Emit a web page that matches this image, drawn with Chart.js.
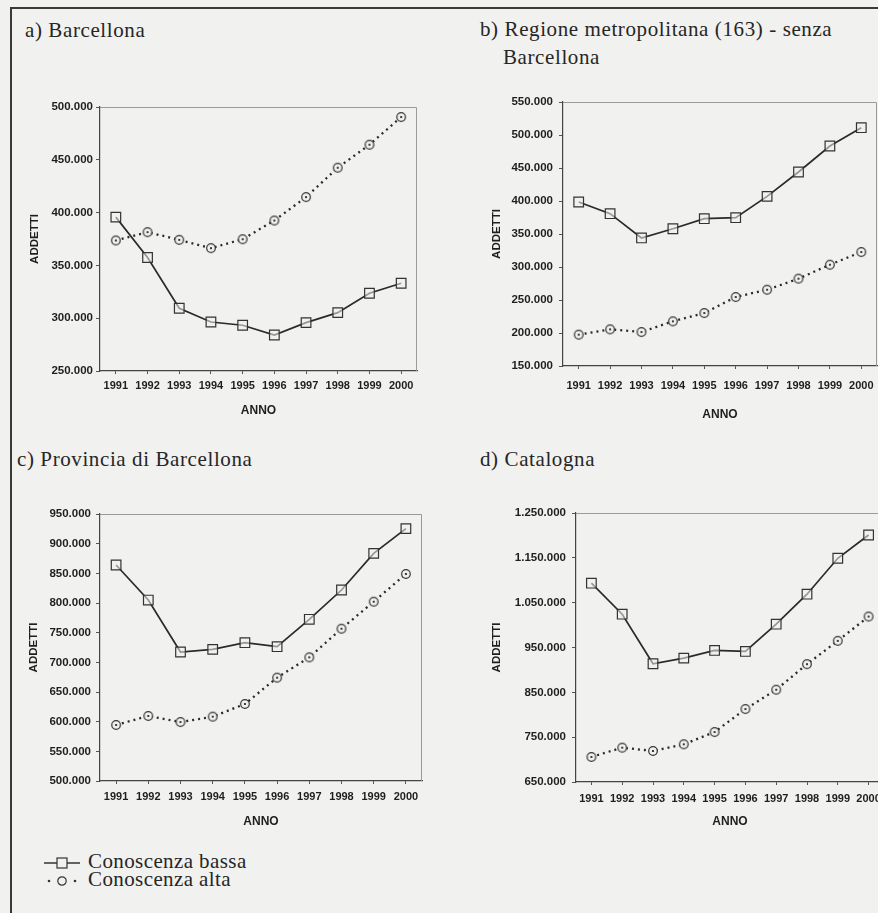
<!DOCTYPE html>
<html>
<head>
<meta charset="utf-8">
<script src="https://cdn.jsdelivr.net/npm/chart.js@4.4.0/dist/chart.umd.min.js"></script>
<style>
  html { margin: 0; padding: 0; overflow: hidden; background: #f1f1ef; }
  body { margin: 0; padding: 0; width: 960px; height: 913px; overflow: hidden; position: relative; background: #f1f1ef; }
  .box { position: absolute; }
  .box canvas { display: block; }
  .ttl { position: absolute; font-family: "Liberation Serif", serif; font-size: 21px; letter-spacing: 0.6px; color: #262626; line-height: 22px; white-space: nowrap; }
  .frame-top { position: absolute; left: 11px; top: 7px; width: 900px; height: 2px; background: #3a3a3a; }
  .frame-left { position: absolute; left: 10px; top: 7px; width: 2px; height: 906px; background: #3a3a3a; }
  .leg { position: absolute; left: 44px; font-family: "Liberation Serif", serif; font-size: 21px; letter-spacing: 0.4px; color: #262626; line-height: 18px; white-space: nowrap; }
  .leg svg { vertical-align: -2px; margin-right: 8px; }
</style>
</head>
<body>
<div class="frame-top"></div>
<div class="frame-left"></div>

<div class="ttl" style="left:25px; top:19px;">a) Barcellona</div>
<div class="ttl" style="left:480px; top:15px; line-height:28px;">b) Regione metropolitana (163) - senza<br><span style="padding-left:23px">Barcellona</span></div>
<div class="ttl" style="left:17px; top:448px;">c) Provincia di Barcellona</div>
<div class="ttl" style="left:480px; top:448px;">d) Catalogna</div>

<div class="box" id="boxA"><canvas id="chartA"></canvas></div>
<div class="box" id="boxB"><canvas id="chartB"></canvas></div>
<div class="box" id="boxC"><canvas id="chartC"></canvas></div>
<div class="box" id="boxD"><canvas id="chartD"></canvas></div>

<div class="leg" style="top:852px;"><svg width="36" height="14"><line x1="0" y1="7" x2="36" y2="7" stroke="#333" stroke-width="1.6"/><rect x="13" y="2" width="10" height="10" fill="#f1f1ef" stroke="#333" stroke-width="1.2"/></svg>Conoscenza bassa</div>
<div class="leg" style="top:870px;"><svg width="36" height="14"><circle cx="5" cy="7" r="1.3" fill="#333"/><circle cx="18" cy="7" r="4.2" fill="#f1f1ef" stroke="#333" stroke-width="1.2"/><circle cx="31" cy="7" r="1.3" fill="#333"/></svg>Conoscenza alta</div>

<script>
// anni (asse x)
var anni = ['1991', '1992', '1993', '1994', '1995', '1996', '1997', '1998', '1999', '2000'];

// a) Barcellona
var barcellonaBassa = [395700, 357500, 309400, 296400, 293300, 284100, 295800, 305300, 323600, 333100];
var barcellonaAlta  = [373600, 381500, 374200, 366300, 374800, 392500, 414700, 442500, 464300, 490500];

// b) Regione metropolitana (163) - senza Barcellona
var regioneBassa = [398500, 380800, 344000, 358000, 373200, 374700, 407000, 443900, 483300, 511100];
var regioneAlta  = [197500, 205500, 201500, 217700, 230300, 254500, 265600, 282300, 303500, 322700];

// c) Provincia di Barcellona
var provinciaBassa = [864000, 805000, 717400, 721900, 733100, 726400, 772500, 821900, 883700, 925300];
var provinciaAlta  = [594400, 609600, 599400, 608400, 629800, 674200, 708400, 756700, 802200, 848900];

// d) Catalogna
var catalognaBassa = [1093400, 1024300, 913700, 926300, 943400, 941200, 1002000, 1068900, 1149000, 1201000];
var catalognaAlta  = [705800, 726600, 719200, 734100, 761500, 812700, 855800, 912900, 964900, 1019100];

var BG = '#f1f1ef';

// cerchio con punto centrale
function circleDot() {
  var c = document.createElement('canvas');
  c.width = 12; c.height = 12;
  var g = c.getContext('2d');
  g.beginPath();
  g.arc(6, 6, 4.3, 0, Math.PI * 2);
  g.fillStyle = BG;
  g.fill();
  g.lineWidth = 1.2;
  g.strokeStyle = '#333';
  g.stroke();
  g.beginPath();
  g.arc(6, 6, 1.1, 0, Math.PI * 2);
  g.fillStyle = '#111';
  g.fill();
  return c;
}
var dotImg = circleDot();

function fmt(v) {
  return String(v).replace(/\B(?=(\d{3})+(?!\d))/g, '.');
}

// bordo grigio sopra e a destra dell'area del grafico
var plotBorder = {
  id: 'plotBorder',
  beforeDatasetsDraw: function (chart) {
    var a = chart.chartArea, ctx = chart.ctx;
    ctx.save();
    ctx.strokeStyle = '#9a9a9a';
    ctx.lineWidth = 1;
    ctx.beginPath();
    ctx.moveTo(a.left, a.top + 0.5);
    ctx.lineTo(a.right - 0.5, a.top + 0.5);
    ctx.lineTo(a.right - 0.5, a.bottom);
    ctx.stroke();
    ctx.restore();
  }
};

function makeChart(boxId, canvasId, bassa, alta, yMin, yMax, step, lay) {
  var box = document.getElementById(boxId);
  var w = lay.right - lay.left + 2;
  var h = lay.bottom - lay.top + 10 + lay.xh;
  box.style.left = lay.left + 'px';
  box.style.top = (lay.top - 10) + 'px';
  box.style.width = w + 'px';
  box.style.height = h + 'px';
  var cv = document.getElementById(canvasId);
  cv.width = w; cv.height = h;
  cv.style.width = w + 'px'; cv.style.height = h + 'px';

  new Chart(cv, {
    type: 'line',
    data: {
      labels: anni,
      datasets: [{
        label: 'Conoscenza bassa',
        data: bassa,
        borderColor: '#2a2a2a',
        borderWidth: 1.7,
        pointStyle: 'rect',
        pointRadius: 6.8,
        pointBackgroundColor: 'rgba(241,241,239,0.55)',
        pointBorderColor: '#333',
        pointBorderWidth: 1.2,
        tension: 0
      }, {
        label: 'Conoscenza alta',
        data: alta,
        borderColor: '#2a2a2a',
        borderWidth: 2.3,
        borderDash: [2, 4],
        pointStyle: dotImg,
        tension: 0
      }]
    },
    options: {
      responsive: false,
      animation: false,
      events: [],
      layout: { autoPadding: false, padding: { top: 10, right: 2, left: 0, bottom: 0 } },
      plugins: {
        legend: { display: false },
        tooltip: { enabled: false }
      },
      scales: {
        x: {
          offset: true,
          grid: { display: true, drawOnChartArea: false, tickLength: 3, color: '#555' },
          border: { color: '#444', width: 1.2 },
          ticks: { color: '#1e1e1e', font: { family: 'Liberation Sans', size: 11, weight: 'bold' }, padding: lay.xpad, maxRotation: 0, autoSkip: false },
          title: { display: true, text: 'ANNO', color: '#1e1e1e', font: { family: 'Liberation Sans', size: 12, weight: 'bold' } },
          afterFit: function (s) { s.height = lay.xh; s.paddingLeft = 0; s.paddingRight = 0; }
        },
        y: {
          min: yMin,
          max: yMax,
          grid: { display: true, drawOnChartArea: false, tickLength: 4, color: '#555' },
          border: { color: '#444', width: 1.2 },
          ticks: { stepSize: step, color: '#1e1e1e', padding: lay.ypad, font: { family: 'Liberation Sans', size: 11.5, weight: 'bold' }, callback: function (v) { return fmt(v); } },
          title: { display: true, text: 'ADDETTI', color: '#1e1e1e', font: { family: 'Liberation Sans', size: 11.5, weight: 'bold' } },
          afterFit: function (s) { s.width = lay.yw; s.paddingTop = 0; s.paddingBottom = 0; }
        }
      }
    },
    plugins: [plotBorder]
  });
}

makeChart('boxA', 'chartA', barcellonaBassa, barcellonaAlta, 250000, 500000, 50000,
  { left: 24, top: 107, right: 417, bottom: 371, yw: 76, xh: 51, xpad: 5, ypad: 3 });
makeChart('boxB', 'chartB', regioneBassa, regioneAlta, 150000, 550000, 50000,
  { left: 486, top: 102, right: 877, bottom: 366, yw: 77, xh: 60, xpad: 10, ypad: 6 });
makeChart('boxC', 'chartC', provinciaBassa, provinciaAlta, 500000, 950000, 50000,
  { left: 23, top: 514, right: 422, bottom: 781, yw: 77, xh: 52, xpad: 6, ypad: 5 });
makeChart('boxD', 'chartD', catalognaBassa, catalognaAlta, 650000, 1250000, 100000,
  { left: 486, top: 513, right: 884, bottom: 782, yw: 90, xh: 51, xpad: 7, ypad: 6 });
</script>
</body>
</html>
